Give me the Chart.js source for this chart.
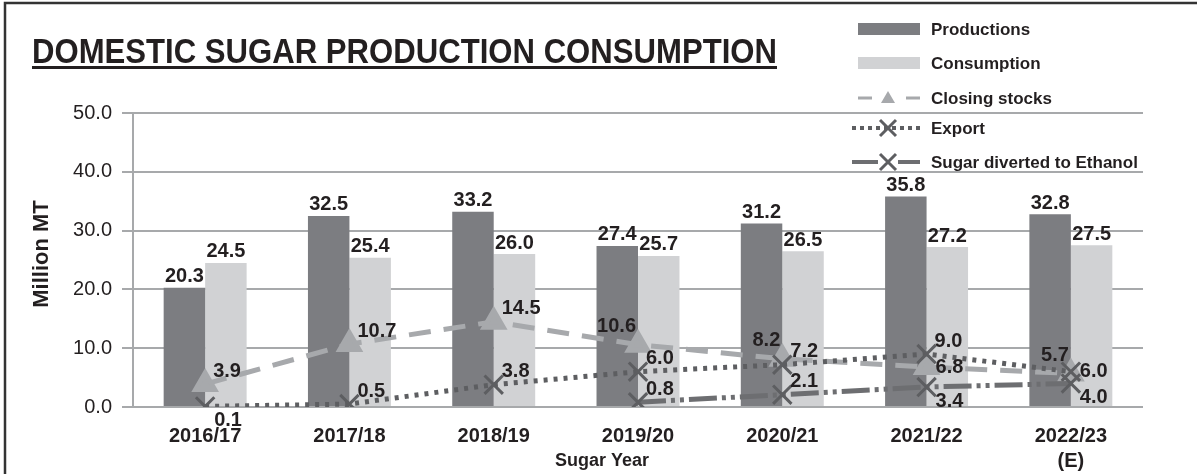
<!DOCTYPE html>
<html lang="en">
<head>
<meta charset="UTF-8" />
<title>Domestic Sugar Production Consumption</title>
<script src="https://cdn.jsdelivr.net/npm/chart.js"></script>
<style>
  body { margin: 0; background: #fff; }
  .wrap { width: 1197px; height: 474px; position: relative; }
</style>
</head>
<body>
<div class="wrap"><canvas id="sugarChart"></canvas></div>
<script>
  // values in million MT
  const years = ['2016/17', '2017/18', '2018/19', '2019/20', '2020/21', '2021/22', ['2022/23', '(E)']];
  const production = [20.3, 32.5, 33.2, 27.4, 31.2, 35.8, 32.8];
  const consumption = [24.5, 25.4, 26.0, 25.7, 26.5, 27.2, 27.5];
  const closingStocks = [3.9, 10.7, 14.5, 10.6, 8.2, 6.8, 5.7];
  const exportVol = [0.1, 0.5, 3.8, 6.0, 7.2, 9.0, 6.0];
  const ethanol = [null, null, null, 0.8, 2.1, 3.4, 4.0];
  const yRange = [0, 50, 10];

  const TEXT = '#231f20';
  const SANS = '"Liberation Sans", Arial, sans-serif';

  // where each line value label sits relative to its point
  const labelSpots = {
    'Closing stocks': ['ne', 'ne', 'ne', 'nw', 'nw', 'e', 'nw'],
    'Export': ['se', 'ne', 'ne', 'ne', 'ne', 'ne', 'e'],
    'Sugar diverted to Ethanol': [null, null, null, 'ne', 'ne', 'se', 'se']
  };

  const valueLabels = {
    id: 'valueLabels',
    afterDatasetsDraw(chart) {
      const ctx = chart.ctx;
      ctx.save();
      ctx.fillStyle = TEXT;
      ctx.font = 'bold 20px ' + SANS;
      chart.data.datasets.forEach((ds, di) => {
        const meta = chart.getDatasetMeta(di);
        meta.data.forEach((el, i) => {
          const v = ds.data[i];
          if (v == null) return;
          const txt = v.toFixed(1);
          if (ds.type === 'bar') {
            ctx.textAlign = 'center';
            ctx.textBaseline = 'bottom';
            ctx.fillText(txt, el.x, el.y - 1);
            return;
          }
          const spot = labelSpots[ds.label][i];
          if (spot === 'ne') {
            ctx.textAlign = 'left'; ctx.textBaseline = 'bottom';
            ctx.fillText(txt, el.x + 8, el.y - 3);
          } else if (spot === 'se') {
            ctx.textAlign = 'left'; ctx.textBaseline = 'top';
            ctx.fillText(txt, el.x + 9, el.y + 4);
          } else if (spot === 'e') {
            ctx.textAlign = 'left'; ctx.textBaseline = 'middle';
            ctx.fillText(txt, el.x + 9, el.y);
          } else {
            ctx.textAlign = 'right'; ctx.textBaseline = 'bottom';
            ctx.fillText(txt, el.x - 2, el.y - 8);
          }
        });
      });
      ctx.restore();
    }
  };

  const decor = {
    id: 'decor',
    afterDraw(chart) {
      const ctx = chart.ctx;
      const ds = chart.data.datasets;
      ctx.save();

      // frame (top and left edges)
      ctx.strokeStyle = '#333';
      ctx.lineWidth = 2.5;
      ctx.beginPath();
      ctx.moveTo(5, 474); ctx.lineTo(5, 3); ctx.lineTo(1197, 3);
      ctx.stroke();

      // title, condensed to the original width
      ctx.fillStyle = TEXT;
      ctx.font = 'bold 35px "Liberation Sans Narrow", ' + SANS;
      ctx.textAlign = 'left';
      ctx.textBaseline = 'alphabetic';
      const title = 'DOMESTIC SUGAR PRODUCTION CONSUMPTION';
      const w = ctx.measureText(title).width;
      ctx.save();
      ctx.translate(32, 63);
      ctx.scale(745 / w, 1);
      ctx.fillText(title, 0, 0);
      ctx.restore();
      ctx.fillRect(32, 66, 745, 3);

      // axis titles
      ctx.font = 'bold 22px ' + SANS;
      ctx.textAlign = 'center';
      ctx.textBaseline = 'middle';
      ctx.save();
      ctx.translate(42, 254);
      ctx.rotate(-Math.PI / 2);
      ctx.fillText('Million MT', 0, 0);
      ctx.restore();
      ctx.font = 'bold 18px ' + SANS;
      ctx.fillText('Sugar Year', 602, 461);

      // legend
      const rows = [29, 63, 98, 128, 162];
      ctx.font = 'bold 17px ' + SANS;
      ctx.textAlign = 'left';
      ds.forEach((d, i) => {
        const y = rows[i];
        ctx.fillStyle = TEXT;
        ctx.fillText(d.label, 931, y + 1);
        if (d.type === 'bar') {
          ctx.fillStyle = d.backgroundColor;
          ctx.fillRect(858, y - 6, 62, 12);
          return;
        }
        ctx.strokeStyle = d.borderColor;
        ctx.lineWidth = i === 2 ? 3 : 4;
        ctx.setLineDash([]);
        ctx.beginPath();
        if (i === 2) {
          ctx.moveTo(858, y); ctx.lineTo(872, y);
          ctx.moveTo(906, y); ctx.lineTo(920, y);
        } else if (i === 3) {
          ctx.setLineDash([4, 4]);
          ctx.moveTo(852, y); ctx.lineTo(920, y);
        } else {
          ctx.moveTo(852, y); ctx.lineTo(878, y);
          ctx.moveTo(898, y); ctx.lineTo(920, y);
        }
        ctx.stroke();
        ctx.setLineDash([]);
        if (i === 2) {
          ctx.fillStyle = d.pointBackgroundColor;
          ctx.beginPath();
          ctx.moveTo(888, y - 7); ctx.lineTo(895, y + 5); ctx.lineTo(881, y + 5);
          ctx.closePath();
          ctx.fill();
        } else {
          ctx.strokeStyle = d.pointBorderColor;
          ctx.lineWidth = 3;
          ctx.beginPath();
          ctx.moveTo(880, y - 8); ctx.lineTo(896, y + 8);
          ctx.moveTo(896, y - 8); ctx.lineTo(880, y + 8);
          ctx.stroke();
        }
      });
      ctx.restore();
    }
  };

  new Chart(document.getElementById('sugarChart'), {
    data: {
      labels: years,
      datasets: [
        {
          type: 'bar', label: 'Productions', data: production,
          backgroundColor: '#7c7d81', order: 3,
          categoryPercentage: 0.575, barPercentage: 1
        },
        {
          type: 'bar', label: 'Consumption', data: consumption,
          backgroundColor: '#d1d2d4', order: 3,
          categoryPercentage: 0.575, barPercentage: 1
        },
        {
          type: 'line', label: 'Closing stocks', data: closingStocks,
          borderColor: '#a7a9ac', borderWidth: 5, borderDash: [22, 13],
          pointStyle: 'triangle', pointRadius: 11,
          pointBackgroundColor: '#a7a9ac', pointBorderColor: '#a7a9ac',
          order: 2
        },
        {
          type: 'line', label: 'Export', data: exportVol,
          borderColor: '#5d5e61', borderWidth: 5, borderDash: [4, 6],
          pointStyle: 'crossRot', pointRadius: 13, pointBorderWidth: 3,
          pointBorderColor: '#5d5e61', pointBackgroundColor: '#5d5e61',
          order: 1
        },
        {
          type: 'line', label: 'Sugar diverted to Ethanol', data: ethanol,
          borderColor: '#6d6e71', borderWidth: 5, borderDash: [28, 5, 4, 5, 4, 5],
          pointStyle: 'crossRot', pointRadius: 13, pointBorderWidth: 3,
          pointBorderColor: '#5d5e61', pointBackgroundColor: '#5d5e61',
          order: 0
        }
      ]
    },
    options: {
      responsive: true,
      maintainAspectRatio: false,
      animation: false,
      layout: { padding: { top: 113, right: 54, bottom: 0, left: 0 } },
      plugins: { legend: { display: false }, tooltip: { enabled: false } },
      scales: {
        x: {
          grid: { display: false },
          border: { display: false },
          ticks: { color: TEXT, font: { family: SANS, size: 20, weight: 'bold', lineHeight: 1.25 }, padding: 9, maxRotation: 0 },
          afterFit: s => { s.height = 67; }
        },
        y: {
          min: yRange[0], max: yRange[1],
          grid: { color: '#a7a9ab', lineWidth: 2, tickLength: 11 },
          border: { display: true, color: '#a7a9ab', width: 2 },
          ticks: {
            stepSize: yRange[2], color: TEXT, padding: 10,
            font: { family: SANS, size: 20 },
            callback: v => v.toFixed(1)
          },
          afterFit: s => { s.width = 133; }
        }
      }
    },
    plugins: [valueLabels, decor]
  });
</script>
</body>
</html>
